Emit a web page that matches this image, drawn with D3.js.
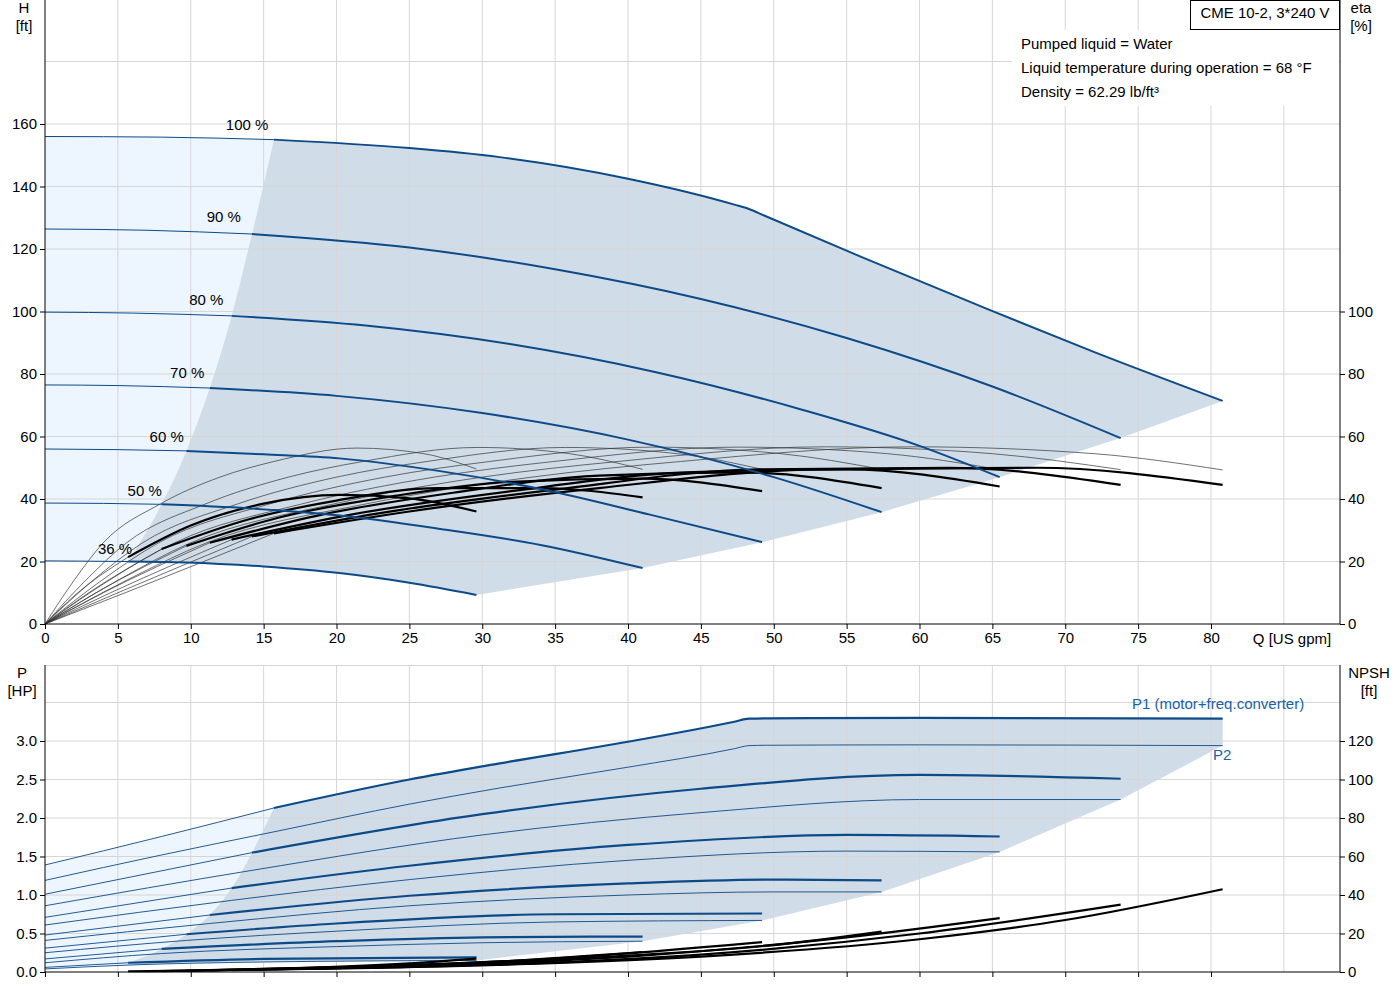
<!DOCTYPE html>
<html>
<head>
<meta charset="utf-8">
<script src="https://cdn.jsdelivr.net/npm/d3@7"></script>
<style>
  body { margin: 0; background: #fff; }
  text { font-family: "Liberation Sans", Arial, sans-serif; font-size: 15px; fill: #000; }
</style>
</head>
<body>
<svg id="chart" width="1400" height="1000"></svg>
<script>
// speeds, in order of the curve arrays below
var speeds = ["100 %", "90 %", "80 %", "70 %", "60 %", "50 %", "36 %"];
var speedFactor = [1, 0.9, 0.8, 0.7, 0.6, 0.5, 0.36];
// minimum flow (start of the thick part) for each speed [US gpm]
var qMin = [15.7, 14.2, 12.8, 11.3, 9.7, 8, 5.7];

// head H [ft] vs Q [US gpm]
var headCurves = [
  [[0,156],[8,155.8],[15.7,155],[25,152.3],[31.2,149.4],[40,142.5],[47.3,134.2],[48.3,132.8],[49.3,130.8],[56,117.5],[64.8,100.5],[72,87],[80.8,71.4]],
  [[0,126.4],[7,126],[14.2,124.8],[25,120.5],[35,113.5],[45,104],[55,91.5],[65,76],[73.8,59.5]],
  [[0,99.8],[6,99.5],[12.8,98.6],[22,95.5],[32,89.5],[42,80.5],[52,68.5],[60,57],[65.5,47]],
  [[0,76.5],[5,76.3],[11.3,75.5],[20,73],[30,67.5],[40,59],[50,47],[57.4,35.8]],
  [[0,56],[5,55.8],[9.7,55.4],[15,54.3],[20.2,53],[27,49],[34,43.2],[41.5,35],[49.2,26.2]],
  [[0,38.7],[4,38.6],[8,38.3],[14,37],[20.2,34.7],[27,30.5],[34,25.3],[41,17.9]],
  [[0,20.2],[3,20.1],[5.7,20],[9.7,19.7],[15,18.4],[20.2,16.3],[25,13.2],[29.6,9.3]]
];

// pump efficiency eta [%] (thin curves)
var etaPump = [
  [[0,0],[5.6,14],[11.1,26],[22,38.4],[33.4,47],[43.6,52],[59.5,56.7],[72,54.5],[80.8,49.3]],
  [[0,0],[5,14],[10,26],[19.8,38.4],[30,47],[39.3,52],[53.5,56.7],[65,54.5],[73.8,49.4]],
  [[0,0],[4.4,14],[8.9,26],[17.6,38.4],[26.7,47],[34.9,52],[47.5,56.6],[57.8,54.5],[65.5,49.4]],
  [[0,0],[3.9,14],[7.8,26],[15.4,38.4],[23.3,47],[30.5,52],[41.6,56.6],[50.5,54.5],[57.4,49.5]],
  [[0,0],[3.3,14],[6.7,26],[13.2,38.4],[20,47],[26.2,52],[35.7,56.5],[43.4,54.5],[49.2,49.5]],
  [[0,0],[2.8,14],[5.6,26],[11,38.4],[16.7,47],[21.8,52],[29.7,56.5],[36,54.5],[41,49.5]],
  [[0,0],[2,14],[4,26],[7.9,38.4],[12,47],[15.7,52],[21.4,56.3],[26,54.5],[29.6,49.6]]
];

// total efficiency eta [%] (thick from qMin)
var etaTotal = [
  [[0,0],[5.5,10],[15.7,29],[25,36],[38,43.5],[53,49.5],[68,50],[80.8,44.5]],
  [[0,0],[5,10],[14.2,28],[23,35.5],[35,43],[49,49.5],[62,50],[73.8,44.5]],
  [[0,0],[4.5,10],[12.8,27],[21,35],[32,42.5],[44,48.5],[55,49.5],[65.5,44]],
  [[0,0],[4,10],[11.3,26],[19,35],[28,42],[38,47.5],[48,48.5],[57.4,43.5]],
  [[0,0],[3.5,10],[9.7,25],[16,34],[24,41],[32,45.5],[41,46.5],[49.2,42.5]],
  [[0,0],[3,10],[8,24],[14,33.5],[20,39.5],[27,43.5],[34,43.5],[41,40.5]],
  [[0,0],[2,9],[5.7,21.4],[10,31.5],[15,38.5],[20.2,41.3],[25,40.2],[29.6,36]]
];

// P1 (motor+freq.converter) [HP]
var powerP1 = [
  [[0,1.39],[8,1.76],[15.7,2.13],[25,2.5],[31.2,2.71],[40,2.99],[47.3,3.25],[48.3,3.29],[49.5,3.295],[60,3.3],[80.8,3.29]],
  [[0,1.01],[14.2,1.55],[30,2.05],[45,2.38],[60,2.56],[73.8,2.51]],
  [[0,0.71],[12.8,1.09],[25,1.38],[40,1.65],[55,1.78],[65.5,1.76]],
  [[0,0.48],[11.3,0.74],[25,0.99],[40,1.15],[50,1.2],[57.4,1.19]],
  [[0,0.31],[9.7,0.49],[20,0.63],[35,0.75],[49.2,0.76]],
  [[0,0.17],[8,0.3],[20,0.4],[30,0.45],[41,0.46]],
  [[0,0.06],[5.7,0.12],[15,0.17],[29.6,0.19]]
];

// P2 [HP]
var powerP2 = [
  [[0,1.19],[8,1.52],[15.7,1.82],[25,2.18],[31.2,2.39],[40,2.66],[47.3,2.9],[48.3,2.94],[49.5,2.945],[60,2.95],[80.8,2.94]],
  [[0,0.86],[14.2,1.32],[30,1.78],[45,2.07],[60,2.24],[73.8,2.24]],
  [[0,0.61],[12.8,0.93],[25,1.2],[40,1.45],[55,1.57],[65.5,1.56]],
  [[0,0.41],[11.3,0.63],[25,0.86],[40,1.0],[50,1.04],[57.4,1.04]],
  [[0,0.25],[9.7,0.41],[20,0.53],[35,0.65],[49.2,0.67]],
  [[0,0.12],[8,0.24],[20,0.33],[30,0.38],[41,0.4]],
  [[0,0.04],[5.7,0.09],[15,0.13],[29.6,0.15]]
];

// NPSH [ft]
var npsh = [
  [[15.7,1.5],[30,3.5],[45,8],[60,17],[70,27],[80.8,43]],
  [[14.2,1.2],[30,3.5],[45,9],[60,20],[73.8,35]],
  [[12.8,1],[25,3],[40,8],[55,18],[65.5,28]],
  [[11.3,0.8],[25,3],[40,8.5],[50,14],[57.4,21]],
  [[9.7,0.6],[20,2.5],[35,7],[49.2,15.5]],
  [[8,0.5],[20,2.3],[30,5],[41,10.4]],
  [[5.7,0.4],[15,1.5],[25,4.5],[29.6,7]]
];

var qTicks = d3.range(0, 81, 5);
var hTicks = d3.range(0, 161, 20);
var etaTicks = d3.range(0, 101, 20);
var pTicks = d3.range(0, 3.01, 0.5);
var npshTicks = d3.range(0, 121, 20);
var infoLines = ["Pumped liquid = Water", "Liquid temperature during operation = 68 °F", "Density = 62.29 lb/ft³"];

var blue = "#0c4a88", shadeDark = "#d0dce7", shadeLight = "#edf6fe", gridCol = "#d6d6d6";
var svg = d3.select("#chart");

var x = d3.scaleLinear().domain([0, 80]).range([45, 1211]);
var xRight = 1340;
var yH = d3.scaleLinear().domain([0, 160]).range([624, 124]);
var yP = d3.scaleLinear().domain([0, 3]).range([972, 741]);
var yN = d3.scaleLinear().domain([0, 120]).range([972, 741]);

function before(c, q) { return c.filter(function(d) { return d[0] <= q + 1e-9; }); }
function after(c, q) { return c.filter(function(d) { return d[0] >= q - 1e-9; }); }
function last(c) { return c[c.length - 1]; }
function lineFor(ys) {
  return d3.line().x(function(d) { return x(d[0]); }).y(function(d) { return ys(d[1]); }).curve(d3.curveMonotoneX);
}
function seg(path) { return path.replace(/^M/, "L"); }

// shaded regions built from the curve pieces
function shades(top, bottom, lower, ys) {
  var ln = lineFor(ys);
  var lin = d3.line().x(function(d) { return x(d[0]); }).y(function(d) { return ys(d[1]); });
  var minLine = lower.map(function(c, i) { return [qMin[i], c.find(function(d) { return Math.abs(d[0] - qMin[i]) < 1e-6; })[1]]; });
  var ends = bottom.map(last);
  var botCurve = bottom[bottom.length - 1];
  var dark = ln(after(top[0], qMin[0])) + seg(lin(ends)) +
    seg(ln(after(botCurve, qMin[6]).slice().reverse())) +
    seg(ln(minLine.slice().reverse())) + "Z";
  var light = ln(before(top[0], qMin[0])) + seg(ln(minLine)) +
    seg(ln(before(botCurve, qMin[6]).slice().reverse())) + "Z";
  return { dark: dark, light: light };
}

// ---------- top chart ----------
var topShade = shades(headCurves, headCurves, headCurves, yH);
svg.append("path").attr("d", topShade.light).attr("fill", shadeLight);
svg.append("path").attr("d", topShade.dark).attr("fill", shadeDark);

var grid = svg.append("g").attr("stroke", gridCol).attr("stroke-width", 1);
d3.range(5, 86, 5).forEach(function(q) {
  grid.append("line").attr("x1", x(q)).attr("x2", x(q)).attr("y1", 0).attr("y2", 624);
  grid.append("line").attr("x1", x(q)).attr("x2", x(q)).attr("y1", 665).attr("y2", 972);
});
d3.range(20, 181, 20).forEach(function(h) {
  grid.append("line").attr("x1", 45).attr("x2", xRight).attr("y1", yH(h)).attr("y2", yH(h));
});
d3.range(0.5, 3.51, 0.5).forEach(function(p) {
  grid.append("line").attr("x1", 45).attr("x2", xRight).attr("y1", yP(p)).attr("y2", yP(p));
});
grid.append("line").attr("x1", 45).attr("x2", xRight).attr("y1", 665.5).attr("y2", 665.5);

// info box area
svg.append("rect").attr("x", 1012).attr("y", 30).attr("width", 327).attr("height", 76).attr("fill", "#fff");

var lineH = lineFor(yH);
etaPump.forEach(function(c) {
  svg.append("path").attr("d", lineH(c)).attr("fill", "none").attr("stroke", "#333").attr("stroke-width", 0.7);
});
etaTotal.forEach(function(c, i) {
  svg.append("path").attr("d", lineH(before(c, qMin[i]))).attr("fill", "none").attr("stroke", "#333").attr("stroke-width", 0.7);
  svg.append("path").attr("d", lineH(after(c, qMin[i]))).attr("fill", "none").attr("stroke", "#000").attr("stroke-width", 2.2);
});
headCurves.forEach(function(c, i) {
  svg.append("path").attr("d", lineH(before(c, qMin[i]))).attr("fill", "none").attr("stroke", blue).attr("stroke-width", 1);
  svg.append("path").attr("d", lineH(after(c, qMin[i]))).attr("fill", "none").attr("stroke", blue).attr("stroke-width", 2);
  svg.append("text").attr("x", x(qMin[i]) - 20 - 28 * speedFactor[i]).attr("y", yH(c[0][1]) - 7).text(speeds[i]);
});

// axes top
svg.append("g").attr("transform", "translate(0,624)")
  .call(d3.axisBottom(x).tickValues(qTicks).tickSize(5).tickFormat(d3.format("d")))
  .call(function(g) { g.select(".domain").attr("d", "M45,0H" + xRight); });
svg.append("g").attr("transform", "translate(45,0)")
  .call(d3.axisLeft(yH).tickValues(hTicks).tickSize(5))
  .call(function(g) { g.select(".domain").attr("d", "M0,0V624"); });
svg.append("g").attr("transform", "translate(" + xRight + ",0)")
  .call(d3.axisRight(yH).tickValues(etaTicks).tickSize(5))
  .call(function(g) { g.select(".domain").attr("d", "M0,0V624"); });

// ---------- bottom chart ----------
var botShade = shades(powerP1, powerP2, powerP1, yP);
svg.insert("path", "g").attr("d", botShade.light).attr("fill", shadeLight);
svg.insert("path", "g").attr("d", botShade.dark).attr("fill", shadeDark);

var lineP = lineFor(yP), lineN = lineFor(yN);
powerP2.forEach(function(c) {
  svg.append("path").attr("d", lineP(c)).attr("fill", "none").attr("stroke", blue).attr("stroke-width", 0.9);
});
powerP1.forEach(function(c, i) {
  svg.append("path").attr("d", lineP(before(c, qMin[i]))).attr("fill", "none").attr("stroke", blue).attr("stroke-width", 0.9);
  svg.append("path").attr("d", lineP(after(c, qMin[i]))).attr("fill", "none").attr("stroke", blue).attr("stroke-width", 2.2);
});
npsh.forEach(function(c) {
  svg.append("path").attr("d", lineN(c)).attr("fill", "none").attr("stroke", "#000").attr("stroke-width", 2.2);
});

svg.append("g").attr("transform", "translate(0,972)")
  .call(d3.axisBottom(x).tickValues(qTicks).tickSize(5).tickFormat(""))
  .call(function(g) { g.select(".domain").attr("d", "M45,0H" + xRight); });
svg.append("g").attr("transform", "translate(45,0)")
  .call(d3.axisLeft(yP).tickValues(pTicks).tickSize(5).tickFormat(d3.format(".1f")))
  .call(function(g) { g.select(".domain").attr("d", "M0,665V972"); });
svg.append("g").attr("transform", "translate(" + xRight + ",0)")
  .call(d3.axisRight(yN).tickValues(npshTicks).tickSize(5))
  .call(function(g) { g.select(".domain").attr("d", "M0,665V972"); });

svg.selectAll(".tick text").style("font-size", "15px").style("font-family", '"Liberation Sans", Arial, sans-serif').attr("fill", "#000");
svg.selectAll(".domain, .tick line").attr("stroke", "#000");

// titles
function label(t, px, py, anchor) {
  svg.append("text").attr("x", px).attr("y", py).attr("text-anchor", anchor || "middle").text(t);
}
label("H", 24, 13); label("[ft]", 24, 31);
label("eta", 1361, 13); label("[%]", 1361, 31);
label("Q [US gpm]", 1292, 644);
label("P", 22, 678); label("[HP]", 22, 696);
label("NPSH", 1369, 678); label("[ft]", 1369, 696);
svg.append("text").attr("x", 1132).attr("y", 709).style("fill", "#1a5fa8").text("P1 (motor+freq.converter)");
svg.append("text").attr("x", 1213).attr("y", 760).style("fill", "#1a5fa8").text("P2");

svg.append("rect").attr("x", 1190.5).attr("y", 0.5).attr("width", 149).attr("height", 29).attr("fill", "#fff").attr("stroke", "#000");
label("CME 10-2, 3*240 V", 1265, 18);
infoLines.forEach(function(t, i) { label(t, 1021, 49 + i * 24, "start"); });
</script>
</body>
</html>
